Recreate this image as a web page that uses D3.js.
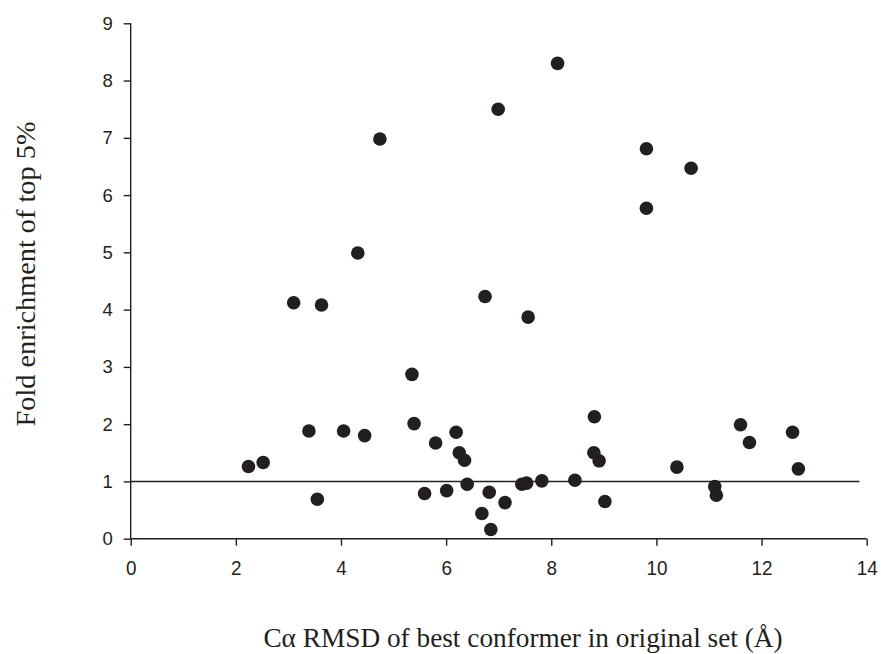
<!DOCTYPE html>
<html>
<head>
    <script src="https://cdnjs.cloudflare.com/ajax/libs/d3/7.8.5/d3.min.js"></script>
    <style>
        body { margin: 0; background: #fff; }
        .tick text { font-family: "Liberation Sans", Arial, sans-serif; fill: #231f20; }
        .title { font-family: "Liberation Serif", "Times New Roman", serif; fill: #231f20; }
    </style>
</head>
<body>
    <div id="chart"></div>
    <script>
        const width = 881, height = 654;

        // Ca RMSD (x) and fold enrichment (y)
        const rmsd = [4.74, 4.32, 6.99, 8.12, 9.81, 10.66, 9.81, 6.74, 3.10, 3.63,
                      7.56, 5.35, 3.39, 4.05, 4.45, 5.39, 6.19, 5.80, 6.25, 6.35,
                      2.24, 2.52, 3.55, 5.59, 6.01, 6.40, 6.82, 6.68, 6.85, 7.12,
                      8.82, 8.81, 8.91, 9.02, 7.44, 7.53, 7.82, 8.45, 10.39, 11.11,
                      11.14, 11.60, 11.77, 12.59, 12.70];
        const enrichment = [6.98, 4.99, 7.50, 8.30, 6.81, 6.47, 5.77, 4.23, 4.12, 4.08,
                            3.87, 2.87, 1.88, 1.88, 1.80, 2.01, 1.86, 1.67, 1.50, 1.37,
                            1.26, 1.33, 0.69, 0.79, 0.84, 0.95, 0.81, 0.44, 0.16, 0.63,
                            2.13, 1.50, 1.36, 0.65, 0.95, 0.97, 1.01, 1.02, 1.25, 0.91,
                            0.76, 1.99, 1.68, 1.86, 1.22];
        const xTicks = [0, 2, 4, 6, 8, 10, 12, 14];
        const yTicks = [0, 1, 2, 3, 4, 5, 6, 7, 8, 9];
        const refLevel = 1;
        const refEnd = 13.86;

        const margin = { left: 130.7, right: 14.3, top: 23.3, bottom: 115.3 };
        const ink = "#231f20";

        const svg = d3.select("#chart").append("svg")
            .attr("width", width).attr("height", height);

        const x = d3.scaleLinear().domain([0, 14]).range([margin.left, width - margin.right]);
        const y = d3.scaleLinear().domain([0, 9]).range([height - margin.bottom, margin.top]);

        const xAxis = svg.append("g")
            .attr("transform", `translate(0,${y(0)})`)
            .call(d3.axisBottom(x).tickValues(xTicks).tickSize(7).tickPadding(14));
        xAxis.selectAll("text")
            .attr("font-size", 21)
            .attr("transform", "scale(0.9,1)");

        const yAxis = svg.append("g")
            .attr("transform", `translate(${x(0)},0)`)
            .call(d3.axisLeft(y).tickValues(yTicks).tickSize(7).tickPadding(11));
        yAxis.selectAll("text").attr("font-size", 18.5);

        svg.selectAll(".domain, .tick line")
            .attr("stroke", ink).attr("stroke-width", 1.4);
        // plain axis lines, no end caps
        xAxis.select(".domain").attr("d", `M${x(0)},0H${x(14)}`);
        yAxis.select(".domain").attr("d", `M0,${y(0)}V${y(9)}`);

        svg.append("line")
            .attr("x1", x(0)).attr("x2", x(refEnd))
            .attr("y1", y(refLevel)).attr("y2", y(refLevel))
            .attr("stroke", ink).attr("stroke-width", 1.4);

        svg.append("g")
            .selectAll("circle")
            .data(d3.range(rmsd.length))
            .join("circle")
            .attr("cx", i => x(rmsd[i]))
            .attr("cy", i => y(enrichment[i]))
            .attr("r", 6.8)
            .attr("fill", ink);

        svg.append("text")
            .attr("class", "title")
            .attr("x", 523).attr("y", 647)
            .attr("text-anchor", "middle")
            .attr("font-size", 27.3)
            .text("Cα RMSD of best conformer in original set (Å)");

        svg.append("text")
            .attr("class", "title")
            .attr("transform", "translate(35,274) rotate(-90)")
            .attr("text-anchor", "middle")
            .attr("font-size", 28.3)
            .text("Fold enrichment of top 5%");
    </script>
</body>
</html>
